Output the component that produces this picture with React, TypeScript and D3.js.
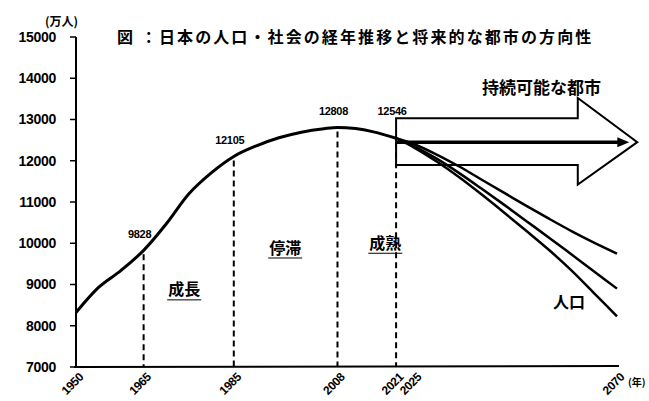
import React from "react";
import * as d3 from "d3";

// 実績（万人）
const years = [1950, 1955, 1960, 1965, 1970, 1975, 1980, 1985, 1990, 1995, 2000, 2005, 2008, 2012, 2016, 2021];
const population = [8320, 8928, 9342, 9828, 10467, 11194, 11706, 12105, 12361, 12557, 12693, 12777, 12808, 12780, 12700, 12546];

// 将来推計（高位・中位・低位）
const projYears = [2021, 2025, 2030, 2035, 2040, 2045, 2050, 2055, 2060, 2065, 2070];
const projHigh = [12546, 12400, 12150, 11860, 11540, 11220, 10900, 10590, 10290, 10010, 9750];
const projMid = [12546, 12350, 12050, 11700, 11320, 10930, 10530, 10130, 9720, 9310, 8900];
const projLow = [12546, 12320, 11980, 11600, 11180, 10740, 10290, 9830, 9330, 8780, 8230];

const markYears = [1965, 1985, 2008, 2021];
const markValues = [9828, 12105, 12808, 12546];

const stageLabels = ["成長", "停滞", "成熟"];
const stageYears = [1974, 1996.4, 2018.6];
const stageValues = [8870, 9885, 10000];

const yTicks = [7000, 8000, 9000, 10000, 11000, 12000, 13000, 14000, 15000];
const xTicks = [1950, 1965, 1985, 2008, 2021, 2025, 2070];

// 矢印（持続可能な都市）: 年と値で位置を決める
const arrowStart = 2021;
const arrowNeck = 2061.3;
const arrowTip = 2074.5;
const arrowBodyTop = 13030;
const arrowBodyBottom = 11900;
const arrowHeadTop = 13520;
const arrowHeadBottom = 11420;
const arrowMid = 12450;

const W = 649;
const H = 401;

const x = d3.scaleLinear().domain([1950, 2070]).range([76, 617]);
const y = d3.scaleLinear().domain([7000, 15000]).range([367, 37]);

const numFont = "'Liberation Sans', Arial, sans-serif";
const jpFont = "'Noto Sans CJK JP', sans-serif";

export default function App() {
  const line = d3
    .line<number>()
    .x((_, i) => x(years[i]))
    .y((d) => y(d))
    .curve(d3.curveMonotoneX);

  const projLine = d3
    .line<number>()
    .x((_, i) => x(projYears[i]))
    .y((d) => y(d))
    .curve(d3.curveMonotoneX);

  const arrowPts = [
    [x(arrowStart), y(arrowBodyTop)],
    [x(arrowNeck), y(arrowBodyTop)],
    [x(arrowNeck), y(arrowHeadTop)],
    [x(arrowTip), y(arrowMid)],
    [x(arrowNeck), y(arrowHeadBottom)],
    [x(arrowNeck), y(arrowBodyBottom)],
    [x(arrowStart), y(arrowBodyBottom)],
  ]
    .map((p) => p.join(","))
    .join(" ");

  const innerEnd = x(arrowTip) - 8;
  const innerY = y(arrowMid);

  // ラベル位置：矢印の範囲内なら矢印の上に出す
  const labelY = (yr: number, v: number) =>
    yr >= arrowStart ? y(arrowBodyTop) - 3 : y(v) - 12;

  return (
    <svg
      width={W}
      height={H}
      style={{ position: "absolute", left: 0, top: 0, background: "#fff" }}
    >
      {/* title */}
      <text x={117} y={43} fontFamily={jpFont} fontWeight="bold" fontSize={16} letterSpacing={2.1}>
        図 ：日本の人口・社会の経年推移と将来的な都市の方向性
      </text>
      <text x={45} y={26} fontFamily={jpFont} fontWeight="bold" fontSize={12}>
        (万人)
      </text>

      {/* y axis */}
      <line x1={x(1950)} x2={x(1950)} y1={y(15000)} y2={y(7000)} stroke="#000" strokeWidth={2} />
      {yTicks.map((t) => (
        <g key={t}>
          <line x1={x(1950) - 6} x2={x(1950)} y1={y(t)} y2={y(t)} stroke="#000" strokeWidth={1.5} />
          <text
            x={56}
            y={y(t)}
            dy="0.35em"
            textAnchor="end"
            fontFamily={numFont}
            fontWeight="bold"
            fontSize={14}
            letterSpacing={-0.3}
          >
            {t}
          </text>
        </g>
      ))}

      {/* x axis */}
      <line x1={x(1950) - 2} x2={x(2070) + 2} y1={y(7000)} y2={y(7000) - 1} stroke="#000" strokeWidth={2} />
      {xTicks.map((t) => (
        <text
          key={t}
          transform={`translate(${x(t) + 8},${y(7000) + 11}) rotate(-45)`}
          textAnchor="end"
          fontFamily={numFont}
          fontWeight="bold"
          fontSize={12}
          letterSpacing={-0.5}
        >
          {t}
        </text>
      ))}
      <text x={628} y={386} fontFamily={jpFont} fontWeight="bold" fontSize={10}>
        (年)
      </text>

      {/* dashed markers */}
      {markYears.map((yr, i) => (
        <line
          key={yr}
          x1={x(yr)}
          x2={x(yr)}
          y1={y(markValues[i]) + 4}
          y2={y(7000)}
          stroke="#000"
          strokeWidth={2}
          strokeDasharray="6,4"
        />
      ))}

      {/* stage labels */}
      {stageLabels.map((s, i) => (
        <g key={s}>
          <text
            x={x(stageYears[i])}
            y={y(stageValues[i])}
            dy="0.35em"
            textAnchor="middle"
            fontFamily={jpFont}
            fontWeight="bold"
            fontSize={16}
          >
            {s}
          </text>
          <line
            x1={x(stageYears[i]) - 17}
            x2={x(stageYears[i]) + 17}
            y1={y(stageValues[i]) + 10}
            y2={y(stageValues[i]) + 10}
            stroke="#000"
            strokeWidth={1}
          />
        </g>
      ))}

      {/* big arrow */}
      <polygon points={arrowPts} fill="#fff" stroke="#000" strokeWidth={2} />
      <line x1={x(arrowStart)} x2={innerEnd - 6} y1={innerY} y2={innerY} stroke="#000" strokeWidth={3.5} />
      <polygon
        points={`${innerEnd},${innerY} ${innerEnd - 12},${innerY - 5} ${innerEnd - 12},${innerY + 5}`}
        fill="#000"
      />
      <text x={482} y={94} fontFamily={jpFont} fontWeight="bold" fontSize={17}>
        持続可能な都市
      </text>

      {/* value labels */}
      {markYears.map((yr, i) => (
        <text
          key={yr}
          x={x(yr) - 4}
          y={labelY(yr, markValues[i])}
          textAnchor="middle"
          fontFamily={numFont}
          fontWeight="bold"
          fontSize={11}
          letterSpacing={-0.3}
        >
          {markValues[i]}
        </text>
      ))}

      {/* population */}
      <path d={line(population) || ""} fill="none" stroke="#000" strokeWidth={3} />
      {[projHigh, projMid, projLow].map((s, i) => (
        <path key={i} d={projLine(s) || ""} fill="none" stroke="#000" strokeWidth={2.5} />
      ))}
      <text x={553} y={308} fontFamily={jpFont} fontWeight="bold" fontSize={16}>
        人口
      </text>
    </svg>
  );
}
